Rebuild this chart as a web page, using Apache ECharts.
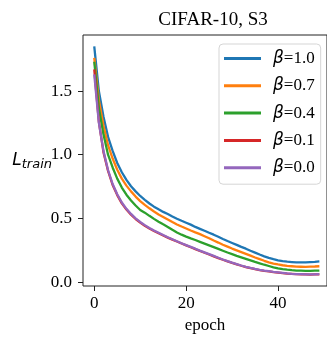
<!DOCTYPE html>
<html><head><meta charset="utf-8">
<script src="https://cdn.jsdelivr.net/npm/echarts@6/dist/echarts.min.js"></script>
<style>html,body{margin:0;padding:0;background:#fff}#c{width:327px;height:339px}</style>
</head><body><div id="c"></div>
<script>
const epochs = Array.from({length:50},(_, i)=>i);
const seriesNames = ['1.0','0.7','0.4','0.1','0.0'];
const beta10 = [1.85,1.50,1.30,1.14,1.03,0.935,0.862,0.802,0.752,0.712,0.676,0.646,0.617,0.592,0.571,0.551,0.534,0.515,0.497,0.481,0.466,0.451,0.433,0.418,0.403,0.387,0.372,0.356,0.338,0.322,0.307,0.292,0.276,0.262,0.246,0.231,0.216,0.202,0.19,0.18,0.171,0.165,0.16,0.157,0.154,0.155,0.154,0.157,0.159,0.162];
const beta07 = [1.76,1.43,1.23,1.075,0.97,0.882,0.812,0.757,0.712,0.671,0.636,0.606,0.579,0.554,0.531,0.511,0.491,0.471,0.452,0.436,0.421,0.405,0.39,0.376,0.36,0.344,0.326,0.31,0.293,0.278,0.263,0.249,0.235,0.221,0.207,0.193,0.18,0.167,0.155,0.145,0.138,0.132,0.127,0.124,0.121,0.12,0.119,0.121,0.122,0.124];
const beta04 = [1.73,1.37,1.16,1.0,0.9,0.812,0.742,0.686,0.641,0.601,0.566,0.545,0.52,0.496,0.474,0.453,0.433,0.41,0.389,0.372,0.357,0.343,0.33,0.316,0.302,0.288,0.274,0.26,0.246,0.232,0.219,0.206,0.194,0.182,0.17,0.158,0.147,0.136,0.126,0.116,0.108,0.102,0.097,0.093,0.09,0.089,0.088,0.088,0.089,0.09];
const beta01 = [1.67,1.26,1.02,0.872,0.762,0.683,0.618,0.569,0.529,0.495,0.467,0.442,0.421,0.401,0.383,0.366,0.349,0.333,0.318,0.303,0.288,0.273,0.259,0.244,0.23,0.216,0.202,0.188,0.175,0.162,0.15,0.139,0.128,0.118,0.109,0.101,0.094,0.088,0.083,0.078,0.074,0.07,0.066,0.064,0.062,0.06,0.06,0.059,0.06,0.06];
const beta00 = [1.63,1.25,1.03,0.88,0.77,0.69,0.625,0.575,0.535,0.5,0.472,0.447,0.425,0.405,0.387,0.369,0.352,0.336,0.32,0.305,0.29,0.276,0.262,0.247,0.233,0.219,0.205,0.191,0.177,0.164,0.152,0.141,0.13,0.12,0.111,0.103,0.096,0.09,0.085,0.08,0.076,0.072,0.068,0.065,0.063,0.062,0.061,0.061,0.061,0.062];
const xTicks = [0,20,40];
const yTicks = [0,0.5,1.0,1.5];
const colors = ['#1f77b4','#ff7f0e','#2ca02c','#d62728','#9467bd'];
const allData = [beta10,beta07,beta04,beta01,beta00];

const serif = '"Liberation Serif","Times New Roman",serif';
const sans = '"DejaVu Sans",sans-serif';
const axisCol = '#222';

const chart = echarts.init(document.getElementById('c'), null, {renderer:'canvas'});
chart.setOption({
  animation:false,
  title:{text:'CIFAR-10, S3', left:208, top:6, textAlign:'center',
    textStyle:{fontFamily:serif,fontSize:19,fontWeight:'normal',color:'#000'}},
  grid:{left:83, right:-2, top:35, bottom:49, show:true, borderColor:axisCol, borderWidth:1, backgroundColor:'transparent'},
  legend:{
    orient:'vertical', left:219, top:44,
    data: seriesNames.map(n=>'β='+n),
    icon:'rect', itemWidth:37, itemHeight:3, itemGap:10.3,
    padding:[6,6,8,5],
    backgroundColor:'rgba(255,255,255,0.85)', borderColor:'#d5d5d5', borderWidth:1, borderRadius:4,
    formatter: function(name){ return '{b|β}{n|' + name.slice(1) + '}'; },
    textStyle:{color:'#000', padding:[0,0,0,7], lineHeight:17,
      rich:{ b:{fontFamily:sans, fontStyle:'italic', fontSize:17, color:'#000'},
             n:{fontFamily:serif, fontSize:17, color:'#000'} }}
  },
  xAxis:{
    type:'value', min:-2.45, max:50.66, position:'bottom',
    name:'epoch', nameLocation:'middle', nameGap:31,
    nameTextStyle:{fontFamily:serif,fontSize:17,color:'#000'},
    axisLine:{show:false,onZero:false},
    axisTick:{show:true,length:5,customValues:xTicks,lineStyle:{color:axisCol}},
    axisLabel:{customValues:xTicks,margin:9,fontFamily:serif,fontSize:17,color:'#000'},
    splitLine:{show:false}
  },
  yAxis:{
    type:'value', min:-0.031, max:1.94,
    name:'{l|L}{s|train}', nameLocation:'middle', nameRotate:0, nameGap:31, nameMoveOverlap:false,
    nameTextStyle:{rich:{
      l:{fontFamily:sans,fontStyle:'italic',fontSize:17,color:'#000'},
      s:{fontFamily:sans,fontStyle:'italic',fontSize:13,color:'#000',padding:[8,0,0,0]}}},
    axisLine:{show:false,onZero:false},
    axisTick:{show:true,length:5,customValues:yTicks,lineStyle:{color:axisCol}},
    axisLabel:{customValues:yTicks,margin:11,fontFamily:serif,fontSize:17,color:'#000',
      formatter:v=>v.toFixed(1)},
    splitLine:{show:false}
  },
  series: allData.map((d,i)=>({
    name:'β='+seriesNames[i], type:'line', showSymbol:false, symbol:'none',
    data: epochs.map((e,j)=>[e,d[j]]),
    lineStyle:{width:2.3,color:colors[i]}, itemStyle:{color:colors[i]}
  }))
});
</script></body></html>
